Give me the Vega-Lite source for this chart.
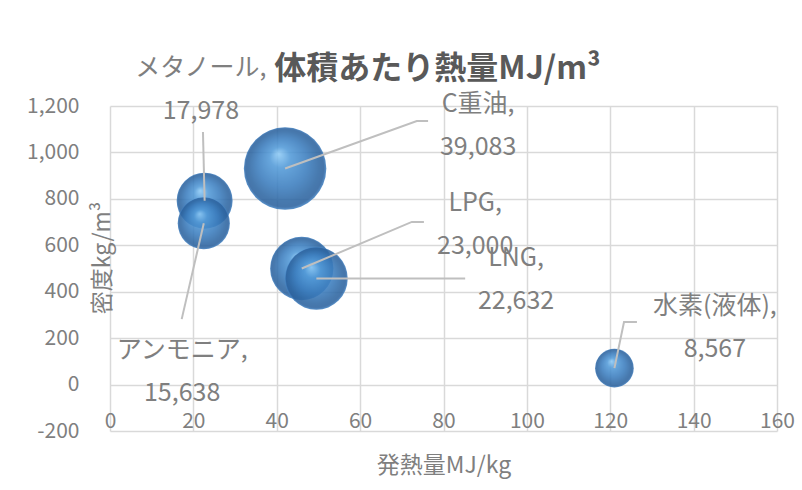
{
  "$schema": "https://vega.github.io/schema/vega-lite/v6.json",
  "width": 667,
  "height": 325,
  "autosize": {"type": "none"},
  "padding": {"left": 110, "top": 106, "right": 25, "bottom": 59},
  "background": "white",
  "config": {
    "view": {"stroke": null},
    "font": "Noto Sans CJK JP",
    "locale": {"number": {"decimal": ".", "thousands": ",", "grouping": [3], "currency": ["$", ""], "minus": "-"}}
  },
  "title": {
    "text": "体積あたり熱量MJ/m³",
    "fontSize": 32,
    "fontWeight": "bold",
    "color": "#595959",
    "font": "Noto Sans CJK JP",
    "anchor": "middle",
    "frame": "group",
    "baseline": "middle",
    "offset": -45,
    "dx": -6
  },
  "datasets": {
    "fuels": [
      {"name": "C重油", "heat": 42, "density": 930.5, "vol": 39083, "label1": "C重油,", "lx": 88.3, "ly": 1118},
      {"name": "LPG", "heat": 46, "density": 500, "vol": 23000, "label1": "LPG,", "lx": 87.6, "ly": 690},
      {"name": "LNG", "heat": 49.5, "density": 457.2, "vol": 22632, "label1": "LNG,", "lx": 97.4, "ly": 451},
      {"name": "メタノール", "heat": 22.7, "density": 792, "vol": 17978, "label1": "メタノール,", "lx": 21.8, "ly": 1271},
      {"name": "アンモニア", "heat": 22.5, "density": 695, "vol": 15638, "label1": "アンモニア,", "lx": 17.3, "ly": 57},
      {"name": "水素(液体)", "heat": 121, "density": 70.8, "vol": 8567, "label1": "水素(液体),", "lx": 145.1, "ly": 244}
    ],
    "leaders": [
      {"name": "C重油", "order": 1, "heat": 42, "density": 930.5},
      {"name": "C重油", "order": 2, "heat": 73.6, "density": 1135.6},
      {"name": "C重油", "order": 3, "heat": 76.3, "density": 1135.6},
      {"name": "LPG", "order": 1, "heat": 46, "density": 500},
      {"name": "LPG", "order": 2, "heat": 72.4, "density": 700.6},
      {"name": "LPG", "order": 3, "heat": 75.3, "density": 700.6},
      {"name": "LNG", "order": 1, "heat": 49.5, "density": 457.2},
      {"name": "LNG", "order": 2, "heat": 85.2, "density": 457.2},
      {"name": "メタノール", "order": 1, "heat": 22.7, "density": 792},
      {"name": "メタノール", "order": 2, "heat": 22.3, "density": 1088},
      {"name": "アンモニア", "order": 1, "heat": 22.5, "density": 695},
      {"name": "アンモニア", "order": 2, "heat": 17.2, "density": 282},
      {"name": "水素(液体)", "order": 1, "heat": 121, "density": 70.8},
      {"name": "水素(液体)", "order": 2, "heat": 123.3, "density": 269.7},
      {"name": "水素(液体)", "order": 3, "heat": 126.4, "density": 269.7}
    ]
  },
  "layer": [
    {
      "data": {"name": "fuels"},
      "mark": {
        "type": "circle",
        "opacity": 0.88,
        "color": {
          "gradient": "radial",
          "x1": 0.42, "y1": 0.32, "r1": 0,
          "x2": 0.5, "y2": 0.5, "r2": 0.5,
          "stops": [
            {"offset": 0, "color": "#8fcbf6"},
            {"offset": 0.25, "color": "#529ad8"},
            {"offset": 0.6, "color": "#3b7dbe"},
            {"offset": 0.85, "color": "#2e67a3"},
            {"offset": 0.95, "color": "#2c629e"},
            {"offset": 1, "color": "#4485c6"}
          ]
        }
      },
      "encoding": {
        "x": {
          "field": "heat",
          "type": "quantitative",
          "scale": {"domain": [0, 160], "nice": false, "zero": false},
          "axis": {
            "values": [0, 20, 40, 60, 80, 100, 120, 140, 160],
            "title": "発熱量MJ/kg",
            "grid": true,
            "gridColor": "#d9d9d9",
            "gridWidth": 1.5,
            "domain": false,
            "ticks": false,
            "tickSize": 0,
            "labelPadding": -10,
            "labelBaseline": "middle",
            "labelFontSize": 21,
            "labelColor": "#7f7f7f",
            "labelFont": "Noto Sans CJK JP",
            "labelFlush": false,
            "labelOverlap": false,
            "titleFontSize": 23,
            "titleColor": "#7f7f7f",
            "titleFont": "Noto Sans CJK JP",
            "titleFontWeight": "normal",
            "titleY": 34,
            "titleBaseline": "middle"
          }
        },
        "y": {
          "field": "density",
          "type": "quantitative",
          "scale": {"domain": [-200, 1200], "nice": false, "zero": false},
          "axis": {
            "values": [-200, 0, 200, 400, 600, 800, 1000, 1200],
            "format": ",.0f",
            "title": "密度kg/m³",
            "grid": true,
            "gridColor": "#d9d9d9",
            "gridWidth": 1.5,
            "domain": false,
            "ticks": false,
            "tickSize": 0,
            "labelPadding": 31,
            "labelFontSize": 21,
            "labelColor": "#7f7f7f",
            "labelFont": "Noto Sans CJK JP",
            "labelOverlap": false,
            "titleFontSize": 23,
            "titleColor": "#7f7f7f",
            "titleFont": "Noto Sans CJK JP",
            "titleFontWeight": "normal",
            "titleAngle": -90,
            "titleX": -8,
            "titleY": 151.5,
            "titleAlign": "center",
            "titleBaseline": "middle"
          }
        },
        "size": {
          "field": "vol",
          "type": "quantitative",
          "scale": {"domain": [0, 39083], "range": [0, 6800], "zero": true},
          "legend": null
        }
      }
    },
    {
      "data": {"name": "leaders"},
      "mark": {"type": "line", "color": "#bfbfbf", "strokeWidth": 2},
      "encoding": {
        "x": {"field": "heat", "type": "quantitative"},
        "y": {"field": "density", "type": "quantitative"},
        "detail": {"field": "name"},
        "order": {"field": "order"}
      }
    },
    {
      "data": {"name": "fuels"},
      "mark": {
        "type": "text",
        "fontSize": 25,
        "color": "#7f7f7f",
        "font": "Noto Sans CJK JP",
        "align": "center",
        "baseline": "middle",
        "dy": -21.5
      },
      "encoding": {
        "x": {"field": "lx", "type": "quantitative"},
        "y": {"field": "ly", "type": "quantitative"},
        "text": {"field": "label1"}
      }
    },
    {
      "data": {"name": "fuels"},
      "mark": {
        "type": "text",
        "fontSize": 25,
        "color": "#7f7f7f",
        "font": "Noto Sans CJK JP",
        "align": "center",
        "baseline": "middle",
        "dy": 21.5
      },
      "encoding": {
        "x": {"field": "lx", "type": "quantitative"},
        "y": {"field": "ly", "type": "quantitative"},
        "text": {"field": "vol", "type": "quantitative", "format": ",.0f"}
      }
    }
  ]
}
